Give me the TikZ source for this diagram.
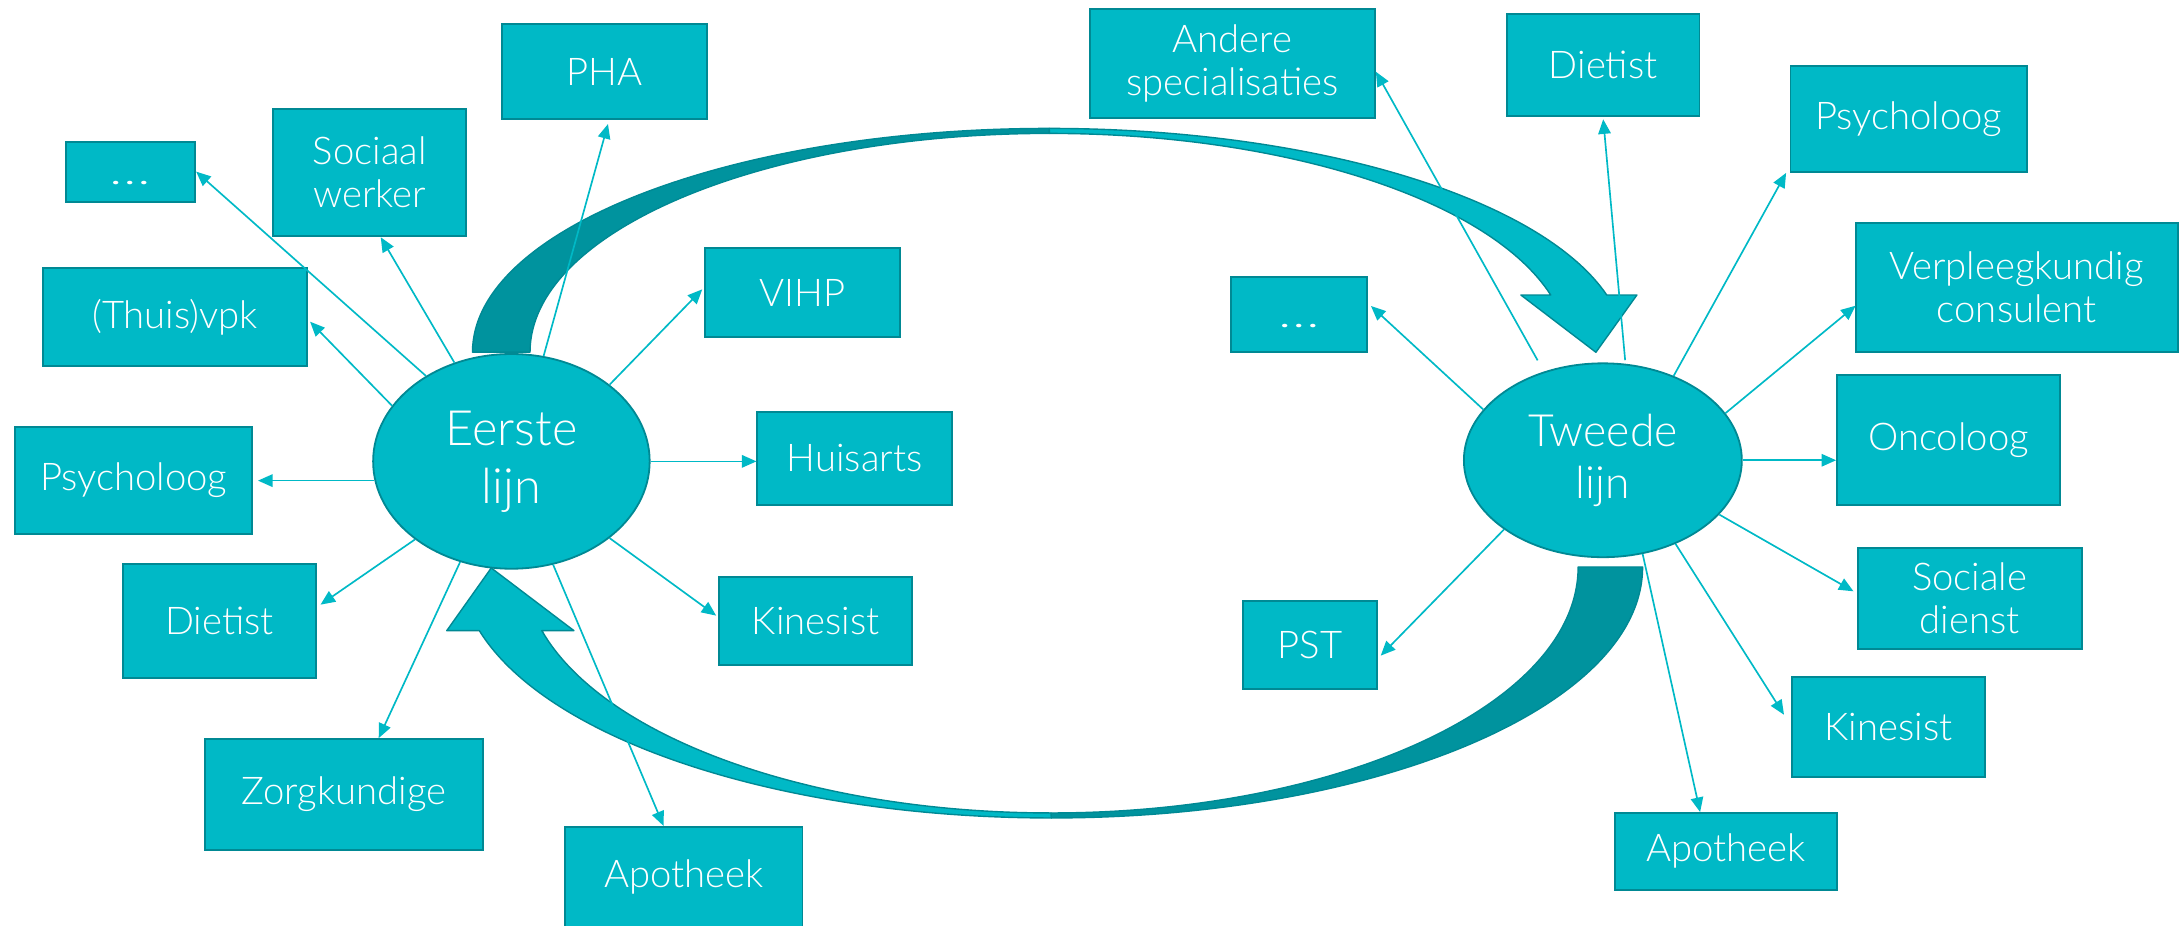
\documentclass[tikz,border=0pt]{standalone}
\usepackage{fontspec}
\setmainfont{Lato Light}
\usetikzlibrary{shapes.geometric,arrows.meta}
\definecolor{tealfill}{RGB}{0,185,198}
\definecolor{tealline}{RGB}{0,137,148}
\definecolor{tealdark}{RGB}{0,147,158}
\definecolor{connc}{RGB}{0,185,198}
\newcommand{\dotsbox}{\vphantom{D}\scalebox{1.5}[1]{…}}
\begin{document}
\begin{tikzpicture}[x=1pt,y=1pt,
  box/.style={rectangle, draw=tealline, fill=tealfill, line width=1.3pt, inner sep=0pt, text=white, align=center, font=\fontsize{27.5}{31}\selectfont},
  hub/.style={ellipse, draw=tealline, fill=tealfill, line width=1.3pt, inner sep=0pt, text=white, align=center},
  conn/.style={draw=connc, line width=1.2pt, -{Triangle[length=10.5pt,width=9pt]}},
  band/.style={draw=tealline, line width=1pt, line join=round}
]
\useasboundingbox (0,0) rectangle (1568,-666);

% top curved arrow
\draw[band, fill=tealdark] (340,-253.4) arc[start angle=180, end angle=90, x radius=415, y radius=161]
  -- (755.1,-96) arc[start angle=90, end angle=180, x radius=373.7, y radius=157.4] -- cycle;
\draw[band, fill=tealfill] (755,-92.4) arc[start angle=90, end angle=14.79, x radius=415, y radius=161]
  -- (1177.9,-212.3) -- (1148.4,-253.5) -- (1094.4,-212.3) -- (1115.9,-212.3)
  arc[start angle=15.14, end angle=90, x radius=373.7, y radius=157.4] -- cycle;

% bottom curved arrow
\draw[band, fill=tealdark] (1182,-408) arc[start angle=0, end angle=-90, x radius=425.5, y radius=180.6]
  -- (756.3,-585) arc[start angle=-90, end angle=0, x radius=379.3, y radius=177] -- cycle;
\draw[band, fill=tealfill] (756.5,-588.6) arc[start angle=270, end angle=194.69, x radius=425.5, y radius=180.6]
  -- (321.5,-453.8) -- (353.5,-408.7) -- (413,-453.8) -- (389.9,-453.8)
  arc[start angle=195, end angle=270, x radius=379.3, y radius=177] -- cycle;

% hubs
\node[hub, minimum width=199pt, minimum height=154.5pt, font=\fontsize{35}{41.7}\selectfont] (e1) at (368,-332) {Eerste\\lijn};
\node[hub, minimum width=200pt, minimum height=139.5pt, font=\fontsize{32}{37}\selectfont] (e2) at (1153.4,-331.2) {Tweede\\lijn};

% left boxes
\node[box, minimum width=93pt, minimum height=43.2pt] (dots1) at (94,-123.5) {\dotsbox};
\node[box, minimum width=139pt, minimum height=91.9pt] (soc1) at (266,-124.15) {Sociaal\\werker};
\node[box, minimum width=148pt, minimum height=68.3pt] (pha) at (435,-51.45) {PHA};
\node[box, minimum width=190pt, minimum height=70.3pt] (thuis) at (126,-228.25) {(Thuis)vpk};
\node[box, minimum width=140pt, minimum height=64pt] (vihp) at (577.5,-210.7) {VIHP};
\node[box, minimum width=170.5pt, minimum height=77pt] (psy1) at (96.25,-345.5) {Psycholoog};
\node[box, minimum width=140pt, minimum height=67pt] (huis) at (615,-329.7) {Huisarts};
\node[box, minimum width=139pt, minimum height=82.1pt] (diet1) at (158,-446.85) {Dietist};
\node[box, minimum width=139pt, minimum height=62.9pt] (kin1) at (587,-446.85) {Kinesist};
\node[box, minimum width=200pt, minimum height=79.6pt] (zorg) at (247.5,-571.6) {Zorgkundige};
\node[box, minimum width=171pt, minimum height=72pt] (apo1) at (492,-631) {Apotheek};

% right boxes
\node[box, minimum width=205pt, minimum height=78.2pt] (andere) at (886.9,-45.8) {Andere\\specialisaties};
\node[box, minimum width=138.5pt, minimum height=73.2pt] (diet2) at (1153.65,-46.9) {Dietist};
\node[box, minimum width=170pt, minimum height=76.5pt] (psy2) at (1373.4,-85.55) {Psycholoog};
\node[box, minimum width=97.5pt, minimum height=54.4pt] (dots2) at (934.65,-226.3) {\dotsbox};
\node[box, minimum width=231.6pt, minimum height=92.9pt] (verp) at (1451.2,-206.65) {Verpleegkundig\\consulent};
\node[box, minimum width=160.5pt, minimum height=93.4pt] (onco) at (1402.15,-316.5) {Oncoloog};
\node[box, minimum width=161pt, minimum height=72.7pt] (soc2) at (1417.4,-430.65) {Sociale\\dienst};
\node[box, minimum width=96.5pt, minimum height=63.1pt] (pst) at (942.65,-464.25) {PST};
\node[box, minimum width=139pt, minimum height=72.4pt] (kin2) at (1358.9,-523.2) {Kinesist};
\node[box, minimum width=160pt, minimum height=55.2pt] (apo2) at (1241.9,-612.6) {Apotheek};

% connectors from Eerste lijn
\coordinate (p1) at (e1.188 -| psy1.east);
\draw[conn] (e1.135) -- (dots1.east);
\draw[conn] (e1.120) -- ([xshift=8pt]soc1.south);
\draw[conn] (e1.73) -- ([xshift=2.5pt,yshift=-3pt]pha.south);
\draw[conn] (e1.155) -- ([xshift=1.5pt,yshift=-3.25pt]thuis.east);
\draw[conn] (e1.38) -- ([xshift=-1.5pt,yshift=2.5pt]vihp.west);
\draw[conn] (e1.0) -- (e1.0 -| huis.west);
\draw[conn] (e1.188) -- ([xshift=3.5pt]p1);
\draw[conn] (e1.219) -- ([xshift=2.5pt,yshift=11.75pt]diet1.east);
\draw[conn] (e1.322) -- ([xshift=-1.5pt,yshift=3.85pt]kin1.west);
\draw[conn] (e1.243) -- ([xshift=25pt]zorg.north);
\draw[conn] (e1.292) -- ([xshift=-14.5pt]apo1.north);

% connectors from Tweede lijn
\draw[conn] ([yshift=9.6pt]e2.127) -- ([yshift=-5.8pt]andere.east);
\draw[conn] ([yshift=2.5pt]e2.77) -- ([yshift=-1.7pt]diet2.south);
\draw[conn] (e2.50) -- ([xshift=-2.5pt]psy2.south west);
\draw[conn] (e2.157) -- ([xshift=2.5pt,yshift=6.1pt]dots2.east);
\draw[conn] (e2.21) -- ([xshift=0.5pt,yshift=-13.35pt]verp.west);
\draw[conn] (e2.0) -- (e2.0 -| onco.west);
\draw[conn] (e2.335) -- ([xshift=-2.5pt,yshift=5.15pt]soc2.west);
\draw[conn] (e2.215) -- ([xshift=2pt,yshift=-7.55pt]pst.east);
\draw[conn] (e2.311) -- ([xshift=-5pt,yshift=8.9pt]kin2.west);
\draw[conn] (e2.293) -- ([xshift=-18.5pt]apo2.north);
\end{tikzpicture}
\end{document}
